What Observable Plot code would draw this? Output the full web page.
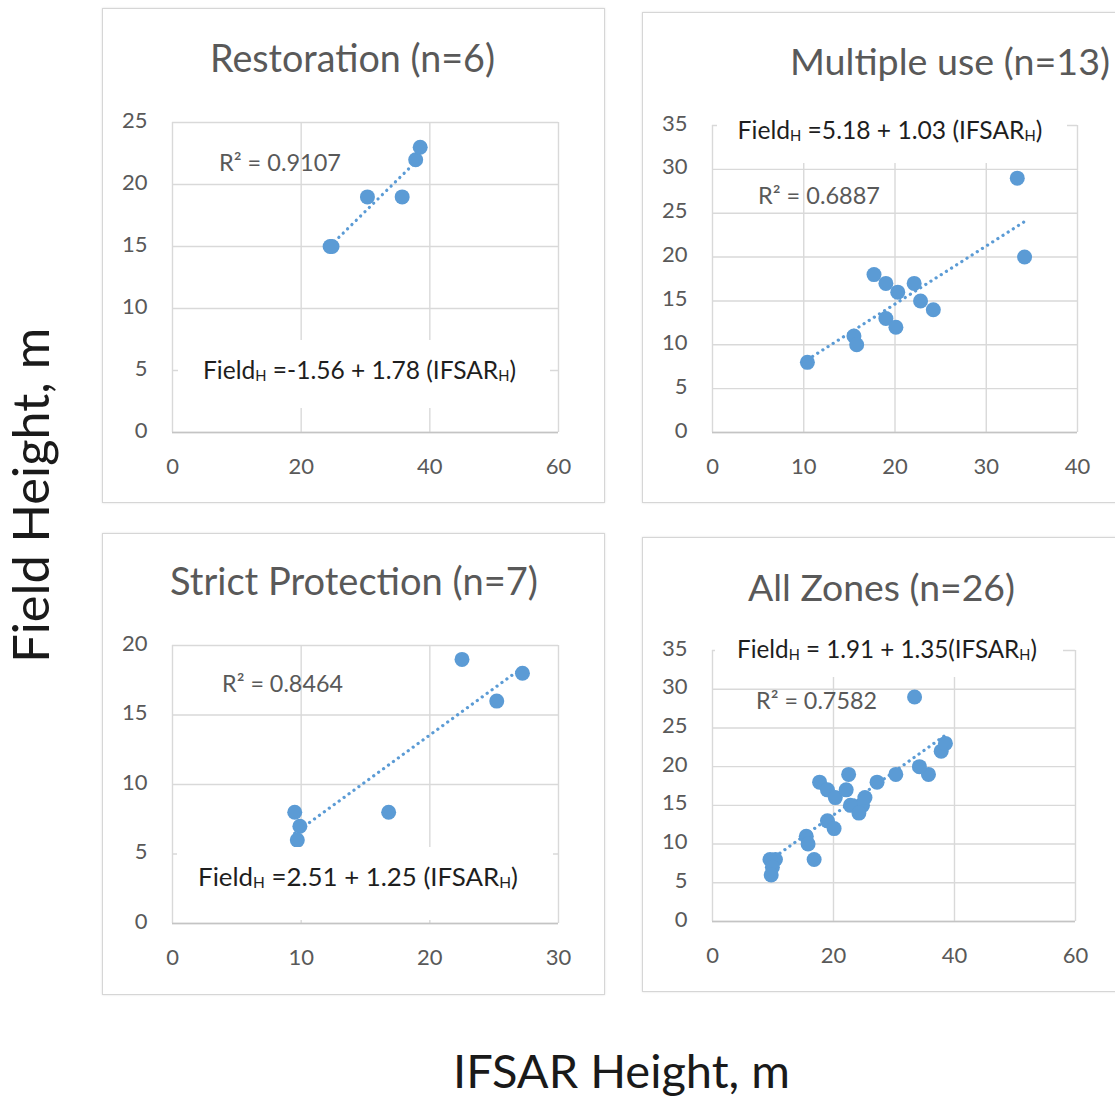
<!DOCTYPE html>
<html>
<head>
<meta charset="utf-8">
<script src="https://cdn.jsdelivr.net/npm/d3@7"></script>
<script src="https://cdn.jsdelivr.net/npm/@observablehq/plot@0.6"></script>
<style>
  html, body { margin: 0; padding: 0; background: #fff; }
  #root { position: relative; width: 1115px; height: 1099px; overflow: hidden; background: #fff; font-family: Lato, "Open Sans", sans-serif; }
  .abs { position: absolute; white-space: nowrap; }
  .panel { position: absolute; border: 1.5px solid #d6d6d6; box-shadow: 0 0 2px rgba(0,0,0,0.12); box-sizing: border-box; background: #fff; }
  sub.h { font-size: 0.6em; vertical-align: -0.12em; line-height: 0; }
</style>
</head>
<body>
<div id="root"></div>
<script>
// ---------------- DATA ----------------
const restorationX = [24.5, 24.8, 30.3, 35.7, 37.8, 38.5];
const restorationY = [15, 15, 19, 19, 22, 23];

const multipleX = [10.4, 15.5, 15.8, 17.7, 19.0, 19.0, 20.3, 20.1, 22.1, 22.8, 24.2, 33.4, 34.2];
const multipleY = [8, 11, 10, 18, 17, 13, 16, 12, 17, 15, 14, 29, 20];

const strictX = [9.5, 9.9, 9.7, 16.8, 22.5, 25.2, 27.2];
const strictY = [8, 7, 6, 8, 19, 16, 18];

const allX = [...restorationX, ...multipleX, ...strictX];
const allY = [...restorationY, ...multipleY, ...strictY];

const panelTitles = ["Restoration (n=6)", "Multiple use (n=13)", "Strict Protection (n=7)", "All Zones (n=26)"];
const equationTexts = [
  "Field_H =-1.56 + 1.78 (IFSAR_H)",
  "Field_H =5.18 + 1.03 (IFSAR_H)",
  "Field_H =2.51 + 1.25 (IFSAR_H)",
  "Field_H = 1.91 + 1.35(IFSAR_H)"
];
const r2Texts = ["R² = 0.9107", "R² = 0.6887", "R² = 0.8464", "R² = 0.7582"];

const xTicks1 = [0, 20, 40, 60];
const yTicks1 = [0, 5, 10, 15, 20, 25];
const xTicks2 = [0, 10, 20, 30, 40];
const yTicks2 = [0, 5, 10, 15, 20, 25, 30, 35];
const xTicks3 = [0, 10, 20, 30];
const yTicks3 = [0, 5, 10, 15, 20];
const xTicks4 = [0, 20, 40, 60];
const yTicks4 = [0, 5, 10, 15, 20, 25, 30, 35];

const xAxisTitle = "IFSAR Height, m";
const yAxisTitle = "Field Height, m";

// ---------------- LAYOUT (page pixels) ----------------
const layout = [
  { box: [102, 8, 605, 503],  plot: [172, 122, 558, 432], title: [352.5, 72, 285],  eqBox: [178, 340, 550, 408], eq: [359.5, 380, 313], r2: [280, 172, 122] },
  { box: [642, 12, 1130, 503], plot: [712, 125, 1077, 432], title: [950, 75, 320],   eqBox: [717, 110, 1067, 163], eq: [890, 140, 305], r2: [819, 205, 122] },
  { box: [102, 533, 605, 995], plot: [172, 645, 558, 923], title: [354, 595, 368],   eqBox: [177, 847, 553, 920], eq: [358, 887, 320], r2: [282.5, 693, 121] },
  { box: [642, 537, 1130, 992], plot: [712, 650, 1075, 921], title: [881.5, 601, 267], eqBox: [715, 630, 1063, 677], eq: [887, 659, 300], r2: [816.5, 710, 121] }
];

const panelData = [
  { xs: restorationX, ys: restorationY, xt: xTicks1, yt: yTicks1 },
  { xs: multipleX, ys: multipleY, xt: xTicks2, yt: yTicks2 },
  { xs: strictX, ys: strictY, xt: xTicks3, yt: yTicks3 },
  { xs: allX, ys: allY, xt: xTicks4, yt: yTicks4 }
];

const BLUE = "#5b9bd5";
const GRID = "#d9d9d9";
const TXT = "#595959";
const root = document.getElementById("root");

function fmtEq(s) {
  return s.replace(/_H/g, '<sub class="h">H</sub>');
}

// text placed with horizontal center cx and baseline y; scaled to target width
function placeText(html, cx, baseline, targetW, baseSize, color, weight) {
  const d = document.createElement("div");
  d.className = "abs";
  d.innerHTML = html;
  d.style.fontSize = baseSize + "px";
  d.style.lineHeight = baseSize + "px";
  d.style.color = color;
  if (weight) d.style.fontWeight = weight;
  root.appendChild(d);
  const w = d.getBoundingClientRect().width;
  const size = targetW ? baseSize * targetW / w : baseSize;
  d.style.fontSize = size + "px";
  d.style.lineHeight = size + "px";
  const w2 = d.getBoundingClientRect().width;
  d.style.left = (cx - w2 / 2) + "px";
  d.style.top = (baseline - 0.887 * size) + "px";
  return d;
}

layout.forEach((L, i) => {
  const P = panelData[i];
  // panel frame
  const box = document.createElement("div");
  box.className = "panel";
  box.style.left = L.box[0] + "px";
  box.style.top = L.box[1] + "px";
  box.style.width = (L.box[2] - L.box[0]) + "px";
  box.style.height = (L.box[3] - L.box[1]) + "px";
  root.appendChild(box);

  const [pl, pt, pr, pb] = L.plot;
  const mL = 70, mT = 30, mR = 30, mB = 60;
  const data = P.xs.map((x, k) => ({ x, y: P.ys[k] }));
  const xMax = P.xt[P.xt.length - 1];
  const yMax = P.yt[P.yt.length - 1];

  const chart = Plot.plot({
    width: (pr - pl) + mL + mR,
    height: (pb - pt) + mT + mB,
    marginLeft: mL, marginRight: mR, marginTop: mT, marginBottom: mB,
    style: { fontFamily: "Lato, 'Open Sans', sans-serif", fontSize: "22px", color: TXT, background: "transparent", overflow: "visible" },
    x: { domain: [0, xMax] },
    y: { domain: [0, yMax] },
    marks: [
      Plot.gridX(P.xt, { stroke: GRID, strokeOpacity: 1, strokeWidth: 1.4 }),
      Plot.gridY(P.yt, { stroke: GRID, strokeOpacity: 1, strokeWidth: 1.4 }),
      Plot.ruleY([0], { stroke: "#c4c4c4", strokeWidth: 1.6 }),
      Plot.axisX(P.xt, { tickSize: 0, tickPadding: 26, label: null }),
      Plot.axisY(P.yt, { tickSize: 0, tickPadding: 25, label: null, dy: -2 }),
      Plot.linearRegressionY(data, { x: "x", y: "y", ci: 0, stroke: BLUE, strokeWidth: 3.2, strokeDasharray: "0.1 6", strokeLinecap: "round" }),
      Plot.dot(data, { x: "x", y: "y", r: 7.5, fill: BLUE })
    ]
  });
  chart.style.position = "absolute";
  chart.style.left = (pl - mL) + "px";
  chart.style.top = (pt - mT) + "px";
  root.appendChild(chart);

  // white box behind equation
  const wb = document.createElement("div");
  wb.className = "abs";
  wb.style.background = "#fff";
  wb.style.left = L.eqBox[0] + "px";
  wb.style.top = L.eqBox[1] + "px";
  wb.style.width = (L.eqBox[2] - L.eqBox[0]) + "px";
  wb.style.height = (L.eqBox[3] - L.eqBox[1]) + "px";
  root.appendChild(wb);

  placeText(fmtEq(equationTexts[i]), L.eq[0], L.eq[1], L.eq[2], 22, "#1e1e1e");
  placeText(r2Texts[i], L.r2[0], L.r2[1], L.r2[2], 22, TXT);
  placeText(panelTitles[i], L.title[0], L.title[1], L.title[2], 36, TXT);
});

// axis titles
placeText(xAxisTitle, 621.5, 1089, 337, 46, "#1a1a1a");
const yt = document.createElement("div");
yt.className = "abs";
yt.textContent = yAxisTitle;
yt.style.color = "#1a1a1a";
yt.style.fontSize = "46px";
yt.style.lineHeight = "46px";
root.appendChild(yt);
let yw = yt.getBoundingClientRect().width;
let ys = 46 * 335 / yw;
yt.style.fontSize = ys + "px";
yt.style.lineHeight = ys + "px";
yw = yt.getBoundingClientRect().width;
yt.style.left = (30 - yw / 2) + "px";
yt.style.top = (495.5 - ys / 2) + "px";
yt.style.transform = "rotate(-90deg)";
yt.style.transformOrigin = "50% 50%";
</script>
</body>
</html>
